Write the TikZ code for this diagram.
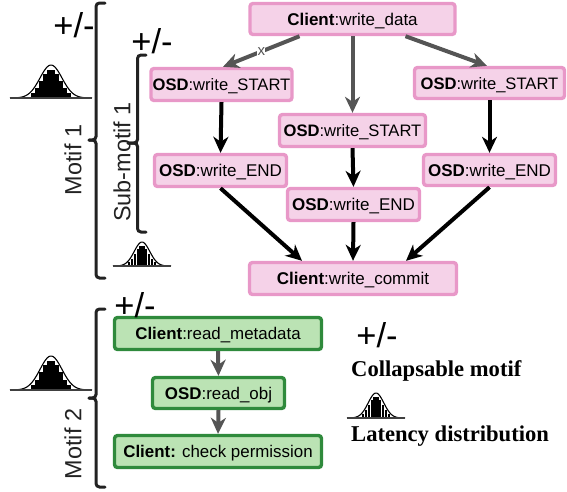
\documentclass[tikz,border=0pt]{standalone}
\usepackage{fontspec}
\setmainfont{Liberation Sans}
\newfontfamily\legendserif{Liberation Serif}
\usetikzlibrary{arrows.meta}
\definecolor{pkfill}{HTML}{F5D2E8}
\definecolor{pkline}{HTML}{E898C8}
\definecolor{grfill}{HTML}{BBE3B4}
\definecolor{grline}{HTML}{2F8A3C}
\definecolor{arrgrey}{HTML}{555555}
\definecolor{brace}{HTML}{222222}
\tikzset{
  boxbase/.style={rectangle,rounded corners=3pt,line width=3.4pt,inner sep=0pt,outer sep=1.7pt,font=\fontsize{17pt}{18pt}\selectfont,text height=12pt,text depth=0pt},
  pinkbox/.style={boxbase,draw=pkline,fill=pkfill},
  startbox/.style={pinkbox,font=\fontsize{16.6pt}{18pt}\selectfont},
  greenbox/.style={boxbase,draw=grline,fill=grfill,font=\fontsize{16.9pt}{18pt}\selectfont},
  blackarrow/.style={line width=4pt,black,-{Stealth[length=16pt,width=15pt,inset=5pt]}},
  greyarrow/.style={line width=4pt,arrgrey,-{Stealth[length=16pt,width=15pt,inset=5pt]}},
  bracepath/.style={line width=3pt,brace,line cap=round,rounded corners=3.5pt},
  sidelabel/.style={rotate=90,font=\fontsize{23.4pt}{26pt}\selectfont,text=brace,inner sep=0pt},
  plusminus/.style={font=\fontsize{34.5pt}{38pt}\selectfont,inner sep=0pt},
  legendtext/.style={font=\legendserif\bfseries\fontsize{22.6pt}{24pt}\selectfont,inner sep=0pt,anchor=west}
}
% \bellicon{centre x}{baseline y}{half width}{height}
\newcommand{\bellicon}[4]{%
  \begin{scope}[shift={(#1,#2)},xscale=#3/41,yscale=#4/33]
    \foreach \bx/\bh in {-18/5,-14/10,-10/17,-6/24,-2/28,2/28,6/24,10/17,14/10,18/5}{
      \fill[black] (\bx-1.7,0) rectangle (\bx+1.7,-\bh);
    }
    \draw[line width=1.1pt,black,domain=-41:41,samples=60,smooth] plot (\x,{-33*exp(-(\x*\x)/(2*11*11))});
    \draw[line width=1.2pt,black!75] (-41,0) -- (41,0);
  \end{scope}}
\begin{document}
\begin{tikzpicture}[x=1pt,y=-1pt]
\useasboundingbox (0,0) rectangle (567,491);
% pink nodes
\node[pinkbox,minimum width=205pt,minimum height=31pt] (wd) at (352.5,19) {\textbf{Client}:write\_data};
\node[startbox,minimum width=141pt,minimum height=32pt] (sl) at (221.5,84.5) {\textbf{OSD}:write\_START};
\node[startbox,minimum width=146pt,minimum height=32pt] (sm) at (352.5,130.5) {\textbf{OSD}:write\_START};
\node[startbox,minimum width=150pt,minimum height=31pt] (sr) at (489.5,83) {\textbf{OSD}:write\_START};
\node[pinkbox,minimum width=132pt,minimum height=32pt] (el) at (220.5,170.5) {\textbf{OSD}:write\_END};
\node[pinkbox,minimum width=132pt,minimum height=32pt] (em) at (353.5,204.5) {\textbf{OSD}:write\_END};
\node[pinkbox,minimum width=132pt,minimum height=31pt] (er) at (489.5,170) {\textbf{OSD}:write\_END};
\node[pinkbox,minimum width=207pt,minimum height=32pt] (wc) at (353,278.5) {\textbf{Client}:write\_commit};
% green nodes
\node[greenbox,minimum width=207pt,minimum height=32pt] (rm) at (218,333.5) {\textbf{Client}:read\_metadata};
\node[greenbox,minimum width=132pt,minimum height=31pt] (ro) at (218.5,393) {\textbf{OSD}:read\_obj};
\node[greenbox,minimum width=207pt,minimum height=32pt] (cp) at (218,451.5) {\textbf{Client:} check permission};
% pink connectors
\draw[greyarrow] ([xshift=-53pt]wd.south) -- node[pos=0.5,fill=white,inner sep=0.3pt,font=\fontsize{15pt}{15pt}\selectfont,text=arrgrey] (xmark) {x} ([xshift=1.5pt]sl.north);
\draw[greyarrow] (wd.south) -- (sm.north);
\draw[greyarrow] ([xshift=53pt]wd.south) -- ([xshift=-2.5pt]sr.north);
\draw[blackarrow] (sl.south) -- (el.north);
\draw[blackarrow] (sm.south) -- (em.north);
\draw[blackarrow] (sr.south) -- (er.north);
\draw[blackarrow] (el.south) -- ([xshift=-51pt]wc.north);
\draw[blackarrow] (em.south) -- (wc.north);
\draw[blackarrow] (er.south) -- ([xshift=53pt]wc.north);
% green connectors
\draw[greyarrow] (rm.south) -- (ro.north);
\draw[greyarrow] (ro.south) -- (cp.north);
% braces
\draw[bracepath] (105,3) -- (96,3) -- (96,140) -- (89,140);
\draw[bracepath] (89,140) -- (96,140) -- (96,278) -- (105,278);
\draw[bracepath] (146,55) -- (137.5,55) -- (137.5,143) -- (128,143);
\draw[bracepath] (128,143) -- (137.5,143) -- (137.5,232) -- (146,232);
\draw[bracepath] (105,309) -- (96,309) -- (96,398) -- (89,398);
\draw[bracepath] (89,398) -- (96,398) -- (96,487) -- (105,487);
% labels
\node[sidelabel] (m1) at (73,160) {Motif 1};
\node[sidelabel] (sm1) at (122,162) {Sub-motif 1};
\node[sidelabel] (m2) at (73,444) {Motif 2};
\node[plusminus] (pm1) at (74,25) {+/-};
\node[plusminus] (pm2) at (152,41) {+/-};
\node[plusminus] (pm3) at (135,305) {+/-};
\node[plusminus] (pm4) at (377,335) {+/-};
\node[legendtext] (lg1) at (351,371) {Collapsable motif};
\node[legendtext] (lg2) at (351,436) {Latency distribution};
% distributions
\bellicon{51}{98}{41}{33}
\bellicon{142}{266}{29}{24}
\bellicon{51}{390}{41}{34}
\bellicon{376}{418}{29}{25}
\end{tikzpicture}
\end{document}
